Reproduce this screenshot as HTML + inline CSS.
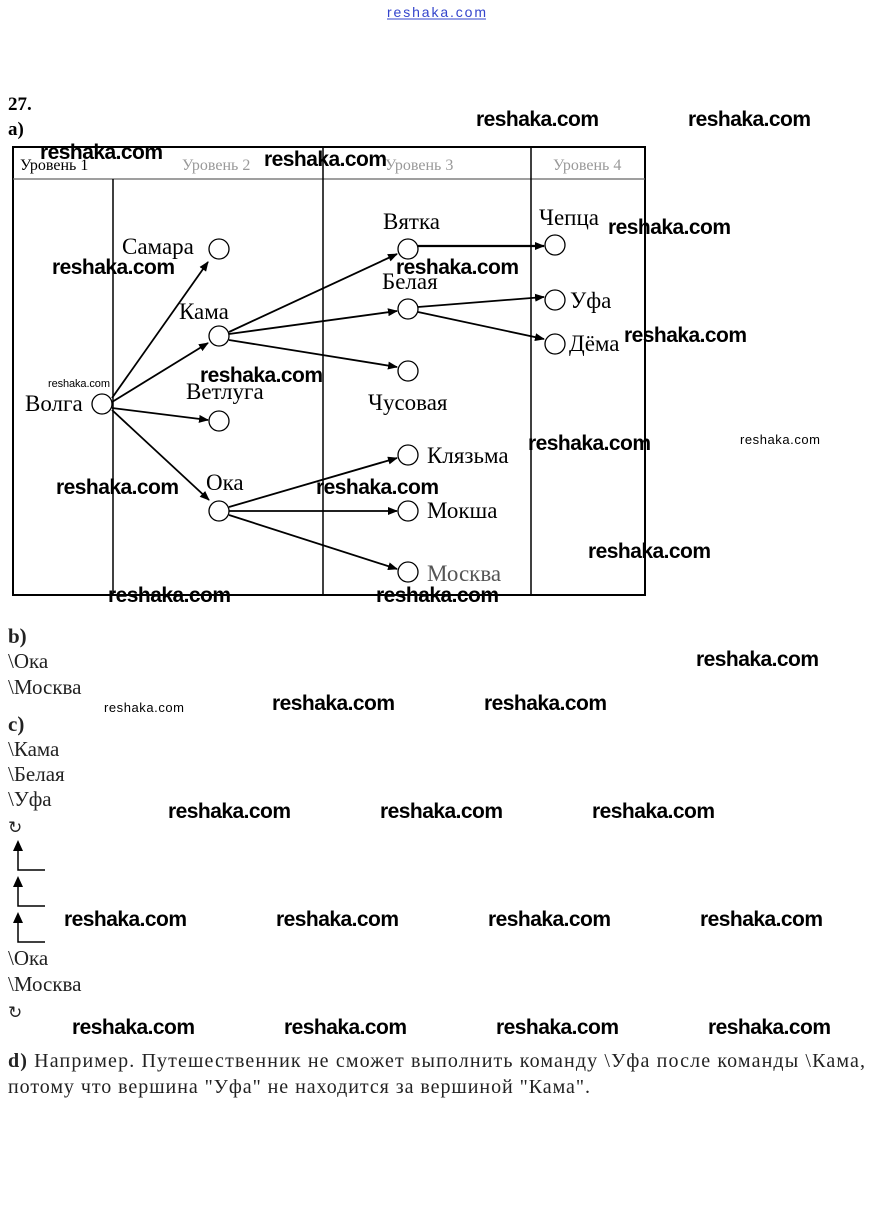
<!DOCTYPE html>
<html><head><meta charset="utf-8"><style>body{margin:0;background:#fff}svg{display:block}</style></head><body>
<svg width="872" height="1206" viewBox="0 0 872 1206" xmlns="http://www.w3.org/2000/svg">
<defs><marker id="a" markerWidth="10" markerHeight="8" refX="9" refY="4" orient="auto" markerUnits="userSpaceOnUse"><path d="M0,0 L10,4 L0,8 z" fill="#000"/></marker></defs>
<g font-family="Liberation Sans, sans-serif"><text x="387" y="17" font-size="14" fill="#3344cc" textLength="99">reshaka.com</text><line x1="387" y1="19" x2="486" y2="19" stroke="#3344cc" stroke-width="1"/></g>
<g font-family="Liberation Serif, 'Noto Serif CJK SC', serif" fill="#000">
<text x="8" y="110" font-size="19" font-weight="bold">27.</text>
<text x="8" y="135" font-size="19" font-weight="bold">a)</text>
</g>
<g fill="none" stroke="#000" stroke-width="2">
<rect x="13" y="147" width="632" height="448"/>
<line x1="13" y1="179" x2="645" y2="179" stroke-width="1.2" stroke="#666"/>
<line x1="113" y1="179" x2="113" y2="595" stroke-width="1.5"/>
<line x1="323" y1="147" x2="323" y2="595" stroke-width="1.5"/>
<line x1="531" y1="147" x2="531" y2="595" stroke-width="1.5"/>
</g>
<g font-family="Liberation Serif, 'Noto Serif CJK SC', serif" font-size="16" >
<text x="20" y="170" fill="#000">Уровень 1</text>
<text x="182" y="170" fill="#999">Уровень 2</text>
<text x="385" y="170" fill="#999">Уровень 3</text>
<text x="553" y="170" fill="#999">Уровень 4</text>
</g>
<g fill="#fff" stroke="#000" stroke-width="1.3">
<circle cx="102" cy="404" r="10"/><circle cx="219" cy="249" r="10"/><circle cx="219" cy="336" r="10"/><circle cx="219" cy="421" r="10"/><circle cx="219" cy="511" r="10"/>
<circle cx="408" cy="249" r="10"/><circle cx="408" cy="309" r="10"/><circle cx="408" cy="371" r="10"/><circle cx="408" cy="455" r="10"/><circle cx="408" cy="511" r="10"/><circle cx="408" cy="572" r="10"/>
<circle cx="555" cy="245" r="10"/><circle cx="555" cy="300" r="10"/><circle cx="555" cy="344" r="10"/>
</g>
<g stroke="#000" stroke-width="1.8" marker-end="url(#a)">
<line x1="112" y1="398" x2="208" y2="262"/>
<line x1="112" y1="402" x2="208" y2="343"/>
<line x1="112" y1="408" x2="208" y2="420"/>
<line x1="112" y1="410" x2="209" y2="500"/>
<line x1="229" y1="332" x2="397" y2="254"/>
<line x1="229" y1="334" x2="397" y2="311"/>
<line x1="229" y1="340" x2="397" y2="367"/>
<line x1="229" y1="507" x2="397" y2="458"/>
<line x1="229" y1="511" x2="397" y2="511"/>
<line x1="229" y1="515" x2="397" y2="569"/>
<line x1="418" y1="246" x2="544" y2="246" stroke-width="2.2"/>
<line x1="418" y1="307" x2="544" y2="297"/>
<line x1="418" y1="312" x2="544" y2="339"/>
</g>
<g font-family="Liberation Serif, 'Noto Serif CJK SC', serif" font-size="23" fill="#000">
<text x="25" y="411">Волга</text>
<text x="122" y="254">Самара</text>
<text x="179" y="319">Кама</text>
<text x="186" y="399">Ветлуга</text>
<text x="206" y="490">Ока</text>
<text x="383" y="229">Вятка</text>
<text x="382" y="289">Белая</text>
<text x="368" y="410">Чусовая</text>
<text x="427" y="463">Клязьма</text>
<text x="427" y="518">Мокша</text>
<text x="427" y="581" fill="#555">Москва</text>
<text x="539" y="225">Чепца</text>
<text x="570" y="308">Уфа</text>
<text x="569" y="351">Дёма</text>
</g>
<g font-family="Liberation Serif, 'Noto Serif CJK SC', serif" font-size="21" fill="#222">
<text x="8" y="643" font-weight="bold">b)</text>
<text x="8" y="668">\Ока</text>
<text x="8" y="694">\Москва</text>
<text x="8" y="731" font-weight="bold">c)</text>
<text x="8" y="756">\Кама</text>
<text x="8" y="781">\Белая</text>
<text x="8" y="806">\Уфа</text>
<text x="8" y="833" font-size="17">↻</text>
<text x="8" y="965">\Ока</text>
<text x="8" y="991">\Москва</text>
<text x="8" y="1018" font-size="17">↻</text>
<text x="8" y="1067" textLength="857" font-size="20"><tspan font-weight="bold">d)</tspan> Например. Путешественник не сможет выполнить команду \Уфа после команды \Кама,</text>
<text x="8" y="1093" textLength="582" font-size="20">потому что вершина "Уфа" не находится за вершиной "Кама".</text>
</g>
<g stroke="#000" stroke-width="1.5" fill="none">
<path d="M18,850 V870 H45"/><path d="M18,886 V906 H45"/><path d="M18,922 V942 H45"/>
</g>
<g fill="#000"><path d="M13,851 L18,840 L23,851z"/><path d="M13,887 L18,876 L23,887z"/><path d="M13,923 L18,912 L23,923z"/></g>
<g font-family="Liberation Sans, sans-serif" font-size="21" font-weight="bold" fill="#000">
<text x="476" y="126" textLength="123">reshaka.com</text>
<text x="688" y="126" textLength="123">reshaka.com</text>
<text x="40" y="159" textLength="123">reshaka.com</text>
<text x="264" y="166" textLength="123">reshaka.com</text>
<text x="608" y="234" textLength="123">reshaka.com</text>
<text x="52" y="274" textLength="123">reshaka.com</text>
<text x="396" y="274" textLength="123">reshaka.com</text>
<text x="624" y="342" textLength="123">reshaka.com</text>
<text x="200" y="382" textLength="123">reshaka.com</text>
<text x="528" y="450" textLength="123">reshaka.com</text>
<text x="56" y="494" textLength="123">reshaka.com</text>
<text x="316" y="494" textLength="123">reshaka.com</text>
<text x="588" y="558" textLength="123">reshaka.com</text>
<text x="108" y="602" textLength="123">reshaka.com</text>
<text x="376" y="602" textLength="123">reshaka.com</text>
<text x="696" y="666" textLength="123">reshaka.com</text>
<text x="272" y="710" textLength="123">reshaka.com</text>
<text x="484" y="710" textLength="123">reshaka.com</text>
<text x="168" y="818" textLength="123">reshaka.com</text>
<text x="380" y="818" textLength="123">reshaka.com</text>
<text x="592" y="818" textLength="123">reshaka.com</text>
<text x="64" y="926" textLength="123">reshaka.com</text>
<text x="276" y="926" textLength="123">reshaka.com</text>
<text x="488" y="926" textLength="123">reshaka.com</text>
<text x="700" y="926" textLength="123">reshaka.com</text>
<text x="72" y="1034" textLength="123">reshaka.com</text>
<text x="284" y="1034" textLength="123">reshaka.com</text>
<text x="496" y="1034" textLength="123">reshaka.com</text>
<text x="708" y="1034" textLength="123">reshaka.com</text>
<text x="48" y="387" font-size="11" font-weight="normal" textLength="62">reshaka.com</text>
<text x="740" y="444" font-size="13" font-weight="normal" textLength="80">reshaka.com</text>
<text x="104" y="712" font-size="13" font-weight="normal" textLength="80">reshaka.com</text>
</g>
</svg>
</body></html>
